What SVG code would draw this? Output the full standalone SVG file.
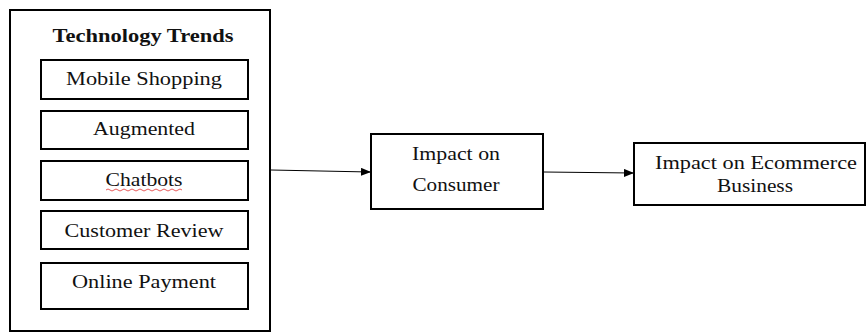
<svg xmlns="http://www.w3.org/2000/svg" width="867" height="333" viewBox="0 0 867 333">
<style>
.box{fill:#fff;stroke:#000;stroke-width:2}
.t{font-family:"Liberation Serif","Times New Roman",serif;font-size:18px;fill:#111;text-anchor:middle}
.b{font-weight:bold}
.conn{stroke:#000;stroke-width:1;fill:none}
</style>
<defs>
<marker id="arr" markerWidth="10" markerHeight="8" refX="9" refY="4" orient="auto" markerUnits="userSpaceOnUse">
<path d="M0,0 L10,4 L0,8 Z" fill="#000"/>
</marker>
</defs>
<rect width="867" height="333" fill="#fff"/>
<g id="trends">
<rect class="box" x="10" y="10" width="260" height="321"/>
<text class="t b" x="143" y="42" textLength="181" lengthAdjust="spacingAndGlyphs">Technology Trends</text>
</g>
<g id="mobile">
<rect class="box" x="41" y="60" width="207" height="39"/>
<text class="t" x="144" y="85" textLength="156" lengthAdjust="spacingAndGlyphs">Mobile Shopping</text>
</g>
<g id="augmented">
<rect class="box" x="41" y="111" width="207" height="38"/>
<text class="t" x="144" y="135" textLength="102" lengthAdjust="spacingAndGlyphs">Augmented</text>
</g>
<g id="chatbots">
<rect class="box" x="41" y="161" width="207" height="39"/>
<text class="t" x="144" y="186" textLength="77" lengthAdjust="spacingAndGlyphs">Chatbots</text>
<path d="M106,190 q2,-2 4,0 t4,0 t4,0 t4,0 t4,0 t4,0 t4,0 t4,0 t4,0 t4,0 t4,0 t4,0 t4,0 t4,0 t4,0 t4,0 t4,0 t4,0 t4,0" fill="none" stroke="#e03030" stroke-width="0.8"/>
</g>
<g id="review">
<rect class="box" x="41" y="211" width="207" height="38"/>
<text class="t" x="144" y="237" textLength="159" lengthAdjust="spacingAndGlyphs">Customer Review</text>
</g>
<g id="payment">
<rect class="box" x="41" y="263" width="207" height="46"/>
<text class="t" x="144" y="288" textLength="144" lengthAdjust="spacingAndGlyphs">Online Payment</text>
</g>
<g id="consumer">
<rect class="box" x="371" y="134" width="172" height="75"/>
<text class="t" x="456" y="160" textLength="88" lengthAdjust="spacingAndGlyphs">Impact on</text>
<text class="t" x="456" y="191" textLength="87" lengthAdjust="spacingAndGlyphs">Consumer</text>
</g>
<g id="business">
<rect class="box" x="634" y="143" width="231" height="62"/>
<text class="t" x="756" y="169" textLength="202" lengthAdjust="spacingAndGlyphs">Impact on Ecommerce</text>
<text class="t" x="755" y="192" textLength="76" lengthAdjust="spacingAndGlyphs">Business</text>
</g>
<g id="connectors">
<line class="conn" x1="271" y1="170" x2="370" y2="172" marker-end="url(#arr)"/>
<line class="conn" x1="544" y1="172" x2="633" y2="173" marker-end="url(#arr)"/>
</g>
</svg>
